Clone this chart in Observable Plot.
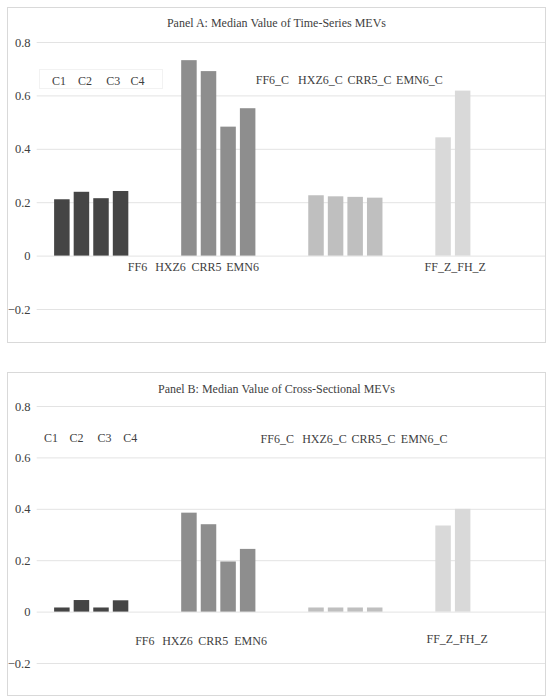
<!DOCTYPE html>
<html><head><meta charset="utf-8">
<script src="https://cdn.jsdelivr.net/npm/d3@7"></script>
<script src="https://cdn.jsdelivr.net/npm/@observablehq/plot@0.6"></script>
<style>
body{margin:0;background:#fff;font-family:"Liberation Serif","Times New Roman",Times,"DejaVu Serif",serif;}
#root{position:relative;width:553px;height:700px;overflow:hidden;}
.box{position:absolute;border:1px solid #d9d9d9;box-sizing:border-box;}
.tbox{position:absolute;border:1px solid #f2f2f2;box-sizing:border-box;}
.title{position:absolute;left:0;width:553px;text-align:center;font-size:12px;line-height:16px;color:#404040;}
.chart{position:absolute;left:0;}
.chart text{font-family:"Liberation Serif","Times New Roman",Times,"DejaVu Serif",serif;}
</style></head><body><div id="root"></div>
<script>
// ---- data ----
const barNames = ["C1","C2","C3","C4","FF6","HXZ6","CRR5","EMN6","FF6_C","HXZ6_C","CRR5_C","EMN6_C","FF_Z","FH_Z"];
const barGroup = [0,0,0,0,1,1,1,1,2,2,2,2,3,3];
const barSlot  = [0,1,2,3,0,1,2,3,0,1,2,3,0,1];
const panelAValues = [0.211,0.239,0.215,0.242,0.732,0.691,0.483,0.552,0.226,0.222,0.220,0.217,0.443,0.618];
const panelBValues = [0.016,0.045,0.016,0.044,0.385,0.340,0.195,0.244,0.016,0.016,0.016,0.016,0.335,0.400];
const yTicks = [-0.2,0,0.2,0.4,0.6,0.8];
const groupColors = ["#454545","#8e8e8e","#bfbfbf","#d9d9d9"];
const titleA = "Panel A: Median Value of Time-Series MEVs";
const titleB = "Panel B: Median Value of Cross-Sectional MEVs";
const labelRow1 = ["C1","C2","C3","C4"];
const labelRow2 = ["FF6_C","HXZ6_C","CRR5_C","EMN6_C"];
const labelRow3 = ["FF6","HXZ6","CRR5","EMN6"];
const labelRow4 = ["FF_Z_FH_Z"];

// ---- annotation layout (in axis units) ----
const annotA = [
  {t: labelRow1, xs: [0.172,0.376,0.599,0.789], y: 0.654},
  {t: labelRow2, xs: [1.851,2.229,2.615,3.008], y: 0.658},
  {t: labelRow3, xs: [0.789,1.049,1.332,1.616], y: -0.041},
  {t: labelRow4, xs: [3.29], y: -0.041}
];
const annotB = [
  {t: labelRow1, xs: [0.109,0.309,0.530,0.732], y: 0.676},
  {t: labelRow2, xs: [1.889,2.261,2.647,3.045], y: 0.674},
  {t: labelRow3, xs: [0.847,1.104,1.385,1.679], y: -0.114},
  {t: labelRow4, xs: [3.305], y: -0.106}
];

const OFF = 0.137, PITCH = 0.154, BW = 0.122;
const SERIF = "'Liberation Serif','Times New Roman',Times,'DejaVu Serif',serif";

function panel(values, annot, plotH, top) {
  const bars = barNames.map((n, k) => ({name: n, g: barGroup[k], i: barSlot[k], v: values[k]}));
  const labels = annot.flatMap(r => r.t.map((t, j) => ({t, x: r.xs[j], y: r.y})));
  const mt = 8, mb = 25;
  const chart = Plot.plot({
    width: 553,
    height: mt + plotH + mb,
    marginTop: mt, marginBottom: mb, marginLeft: 36.7, marginRight: 8,
    style: {fontFamily: SERIF, fontSize: "12.5px", color: "#404040", background: "transparent"},
    x: {domain: [0, 4], axis: null},
    y: {domain: [-0.2, 0.8]},
    marks: [
      Plot.ruleY(yTicks, {stroke: "#e3e3e3", strokeWidth: 1}),
      Plot.axisY({ticks: yTicks, tickSize: 0, tickPadding: 6.7, fontSize: 12.5,
        tickFormat: d => d === 0 ? "0" : (d < 0 ? "\u2212" + Math.abs(d) : String(d))}),
      Plot.rect(bars, {
        x1: d => d.g + OFF + PITCH * d.i,
        x2: d => d.g + OFF + PITCH * d.i + BW,
        y1: 0, y2: "v",
        fill: d => groupColors[d.g]
      }),
      Plot.text(labels, {x: "x", y: "y", text: "t", fontSize: 12, fill: "#404040"})
    ]
  });
  chart.classList.add("chart");
  chart.style.top = top + "px";
  return chart;
}

const root = document.getElementById("root");
function addDiv(cls, css, text) {
  const d = document.createElement("div");
  d.className = cls;
  Object.assign(d.style, css);
  if (text) d.textContent = text;
  root.appendChild(d);
}
addDiv("box", {left: "7px", top: "7px", width: "539px", height: "336px"});
addDiv("box", {left: "7px", top: "372px", width: "539px", height: "324px"});
addDiv("title", {top: "15px"}, titleA);
addDiv("title", {top: "381px"}, titleB);
root.appendChild(panel(panelAValues, annotA, 267, 34));
root.appendChild(panel(panelBValues, annotB, 257, 398.3));
addDiv("tbox", {left: "39px", top: "69px", width: "124px", height: "20px"});
</script></body></html>
